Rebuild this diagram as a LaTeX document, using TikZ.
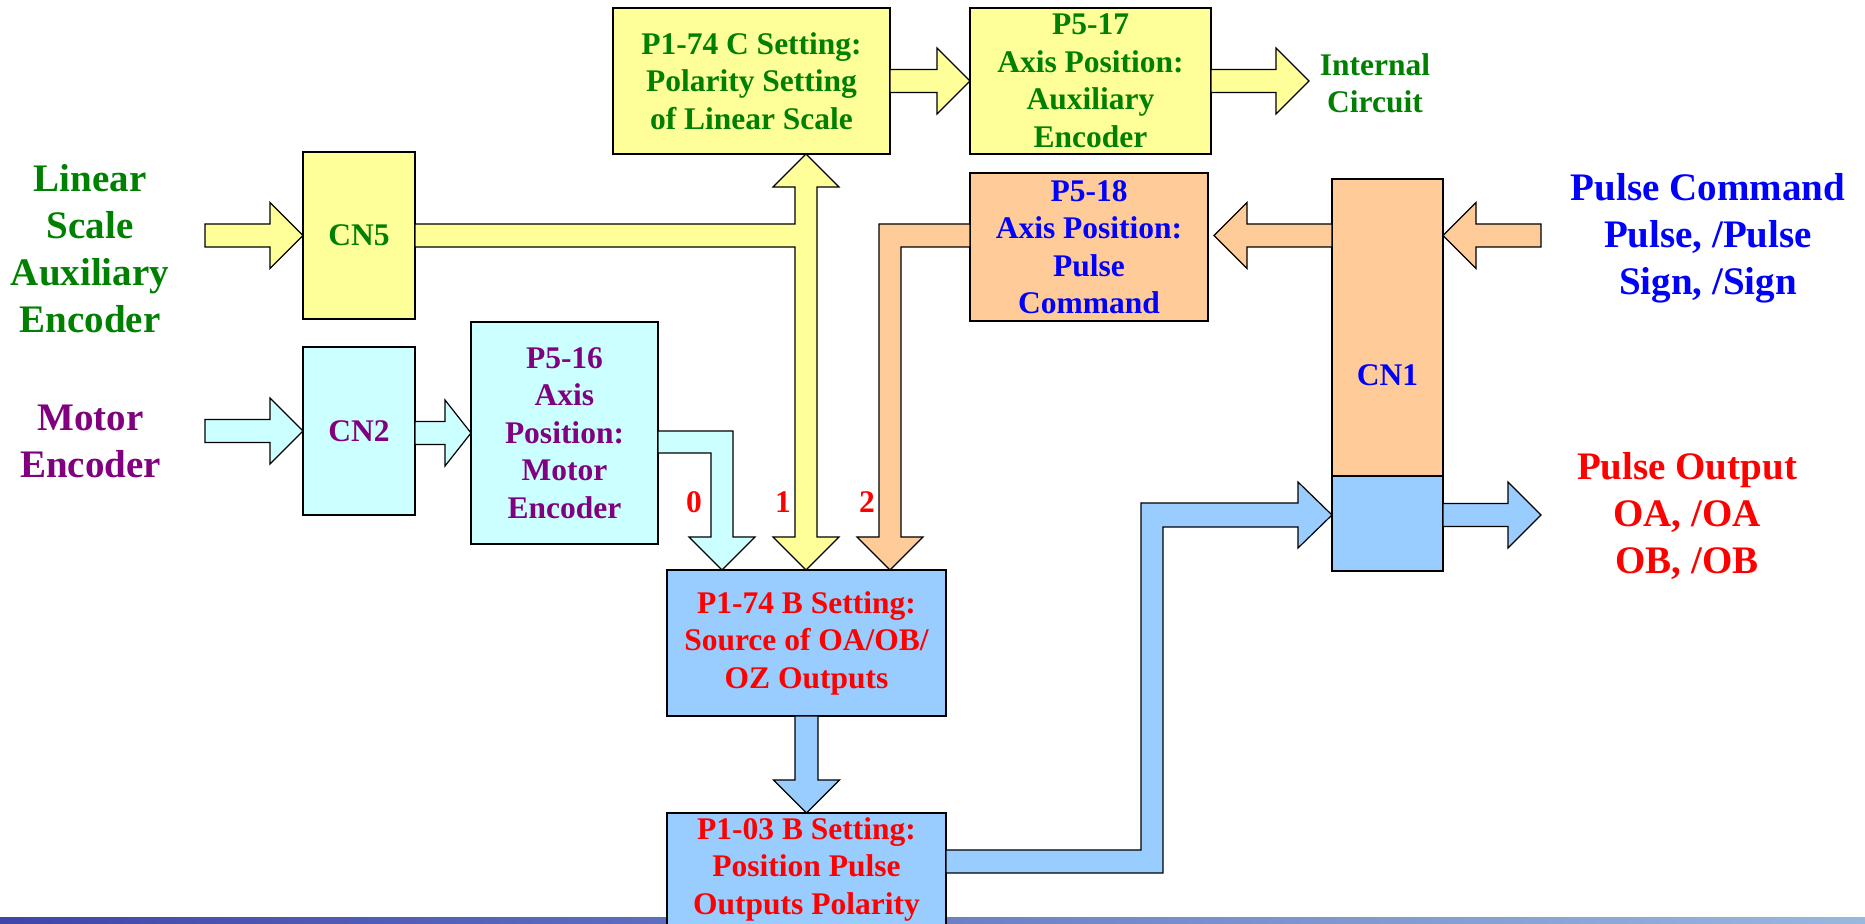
\documentclass[tikz,border=0pt]{standalone}
\usepackage{fontspec}
\setmainfont{Liberation Serif}
\usetikzlibrary{calc}

\definecolor{ylwfill}{RGB}{255,255,153}
\definecolor{cyanfill}{RGB}{204,255,255}
\definecolor{orgfill}{RGB}{255,204,153}
\definecolor{bluefill}{RGB}{153,204,255}
\definecolor{txtgreen}{RGB}{0,128,0}
\definecolor{txtpurple}{RGB}{128,0,128}
\definecolor{txtblue}{RGB}{0,0,255}
\definecolor{txtred}{RGB}{255,0,0}
\definecolor{barleft}{RGB}{62,70,170}
\definecolor{barright}{RGB}{152,184,221}

\newcommand\bxfont{\fontsize{15.75pt}{18.75pt}\selectfont\bfseries}
\newcommand\lgfont{\fontsize{19.5pt}{23.5pt}\selectfont\bfseries}

% horizontal block arrow: tail x from #2, tip at #3, head length #4 (px, negative points left)
\newcommand\hblock[4][]{%
  \draw[blockarrow,#1] let \p1=(#2), \p2=(#3) in
    (\x1,{\y2+5.75pt}) -- ({\x2-(#4)*0.5pt},{\y2+5.75pt})
    -- ({\x2-(#4)*0.5pt},{\y2+16.5pt}) -- (\p2)
    -- ({\x2-(#4)*0.5pt},{\y2-16.5pt}) -- ({\x2-(#4)*0.5pt},{\y2-5.75pt})
    -- (\x1,{\y2-5.75pt}) -- cycle;}
% downward block arrow: tail y from #2, tip at #3, head length #4 (px)
\newcommand\vblock[4][]{%
  \draw[blockarrow,#1] let \p1=(#2), \p2=(#3) in
    ({\x2-5.75pt},\y1) -- ({\x2-5.75pt},{\y2+(#4)*0.5pt})
    -- ({\x2-16.5pt},{\y2+(#4)*0.5pt}) -- (\p2)
    -- ({\x2+16.5pt},{\y2+(#4)*0.5pt}) -- ({\x2+5.75pt},{\y2+(#4)*0.5pt})
    -- ({\x2+5.75pt},\y1) -- cycle;}

\begin{document}
\begin{tikzpicture}[x=0.5pt,y=-0.5pt,
  box/.style={draw=black,line width=0.7pt,inner sep=0pt,outer sep=0pt,
    align=center,font=\bxfont,anchor=north west},
  sz/.style 2 args={minimum width=#1*0.5pt,minimum height=#2*0.5pt},
  blockarrow/.style={draw=black,line width=0.6pt,line join=miter},
  lbl/.style={align=center,inner sep=0pt,font=\lgfont},
  sel/.style={inner sep=0pt,font=\bxfont,text=txtred}]

\useasboundingbox (0,0) rectangle (1865,924);

% footer bar
\shade[left color=barleft,right color=barright] (0,917) rectangle (1865,924);

% blocks
\node[box,sz={277}{146},fill=ylwfill,text=txtgreen] (p174c) at (613,8)
  {P1-74 C Setting:\\Polarity Setting\\of Linear Scale};
\node[box,sz={241}{146},fill=ylwfill,text=txtgreen] (p517) at (970,8)
  {P5-17\\Axis Position:\\Auxiliary\\Encoder};
\node[box,sz={238}{148},fill=orgfill,text=txtblue] (p518) at (970,173)
  {P5-18\\Axis Position:\\Pulse\\Command};
\node[box,sz={112}{167},fill=ylwfill,text=txtgreen] (cn5) at (303,152) {CN5};
\node[box,sz={112}{168},fill=cyanfill,text=txtpurple] (cn2) at (303,347) {CN2};
\node[box,sz={187}{222},fill=cyanfill,text=txtpurple] (p516) at (471,322)
  {P5-16\\Axis\\Position:\\Motor\\Encoder};
\node[box,sz={111}{392},fill=orgfill,text=txtblue] (cn1) at (1332,179) {CN1};
\node[box,sz={111}{95},fill=bluefill] (cn1out) at (1332,476) {};
\node[box,sz={279}{146},fill=bluefill,text=txtred] (p174b) at (667,570)
  {P1-74 B Setting:\\Source of OA/OB/\\OZ Outputs};
\node[box,sz={279}{112},fill=bluefill,text=txtred] (p103b) at (667,813)
  {P1-03 B Setting:\\Position Pulse\\Outputs Polarity};

% outer labels
\node[lbl,text=txtgreen] (lsText) at (90,249) {Linear\\Scale\\Auxiliary\\Encoder};
\node[lbl,text=txtpurple] (meText) at (90.5,441) {Motor\\Encoder};
\node[lbl,text=txtblue] (pcText) at (1708,238.5) {Pulse Command\\Pulse, /Pulse\\Sign, /Sign};
\node[lbl,text=txtred] (poText) at (1687,515.5) {Pulse Output\\OA, /OA\\OB, /OB};
\node[lbl,font=\bxfont,text=txtgreen] (icText) at (1375,83.5) {Internal\\Circuit};

% free ends and entry points
\coordinate (lsTail) at (205,235.5);
\coordinate (meTail) at (205,431.5);
\coordinate (icTip) at (1309,81);
\coordinate (pcTail) at (1541,235.5);
\coordinate (poTip) at (1541,515);
\coordinate (cn1in) at ($(cn1.north east)+(0,56.5)$);
\coordinate (cn1outA) at ($(cn1.north west)+(0,56.5)$);
\coordinate (p518tip) at ($(p518.north east)+(6,62.5)$);
\coordinate (cn1pin) at ($(cn1out.north west)+(0,39)$);
\coordinate (cn1pout) at ($(cn1out.north east)+(0,39)$);
\coordinate (upTip) at ($(p174c.south west)+(193,0)$);
\coordinate (in0) at ($(p174b.north west)+(55,0)$);
\coordinate (in1) at ($(p174b.north west)+(139,0)$);
\coordinate (in2) at ($(p174b.north west)+(223,0)$);

% straight block arrows
\hblock[fill=ylwfill]{lsTail}{cn5.west}{33}
\hblock[fill=cyanfill]{meTail}{cn2.west}{33}
\hblock[fill=cyanfill]{cn2.east}{p516.west}{26}
\hblock[fill=ylwfill]{p174c.east}{p517.west}{33}
\hblock[fill=ylwfill]{p517.east}{icTip}{33}
\hblock[fill=orgfill]{cn1outA}{p518tip}{-33}
\hblock[fill=orgfill]{pcTail}{cn1in}{-33}
\hblock[fill=bluefill]{cn1pout}{poTip}{33}
\vblock[fill=bluefill]{p174b.south}{p103b.north}{33}

% CN5 feed: double-headed riser to P1-74 C and selector input 1
\draw[blockarrow,fill=ylwfill]
  ($(cn5.east)+(0,-11.5)$) -- (795,224) -- (795,187) -- (773,187) -- (upTip)
  -- (839,187) -- (817,187) -- (817,537) -- (839,537) -- (in1)
  -- (773,537) -- (795,537) -- (795,247) -- ($(cn5.east)+(0,11.5)$) -- cycle;

% motor encoder position to selector input 0
\draw[blockarrow,fill=cyanfill]
  ($(p516.east)+(0,-2)$) -- (733,431) -- (733,537) -- (755,537) -- (in0)
  -- (689,537) -- (711,537) -- (711,453) -- ($(p516.east)+(0,20)$) -- cycle;

% pulse command position to selector input 2
\draw[blockarrow,fill=orgfill]
  ($(p518.west)+(0,-23)$) -- (879,224) -- (879,537) -- (857,537) -- (in2)
  -- (923,537) -- (901,537) -- (901,247) -- (p518.west) -- cycle;

% polarity stage to CN1 output pins
\draw[blockarrow,fill=bluefill]
  ($(p103b.north east)+(0,37)$) -- (1141,850) -- (1141,503) -- (1298,503)
  -- (1298,482) -- (cn1pin) -- (1298,548) -- (1298,527) -- (1163,527)
  -- (1163,873) -- ($(p103b.north east)+(0,60)$) -- cycle;

% selector values
\node[sel] (sel0) at (694,502.5) {0};
\node[sel] (sel1) at (783,502.5) {1};
\node[sel] (sel2) at (867,502.5) {2};

\end{tikzpicture}
\end{document}
